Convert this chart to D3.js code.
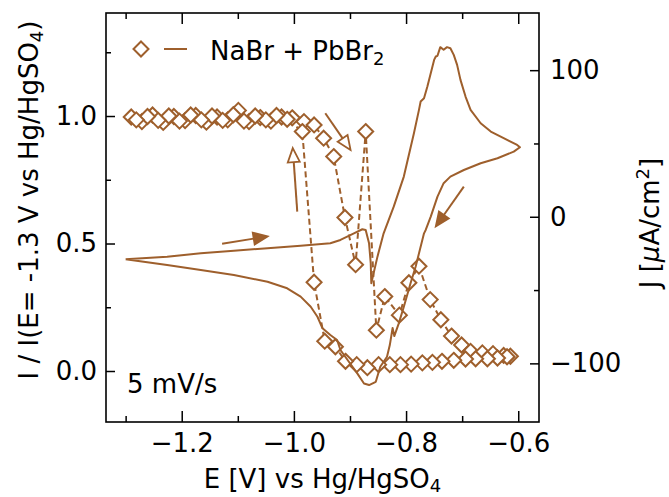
<!DOCTYPE html>
<html>
<head>
<meta charset="utf-8">
<script src="https://cdn.jsdelivr.net/npm/d3@7"></script>
<style>
body { margin: 0; background: white; }
svg { display: block; font-family: "DejaVu Sans", sans-serif; }
</style>
</head>
<body>
<svg id="chart"></svg>
<script>
//CV (right axis) + normalised I (left axis)

//Cyclic voltammogram, E [V] and J [uA/cm2]
var cvE = [-1.300, -1.226, -1.166, -1.107, -1.047, -0.988, -0.935, -0.917, -0.893, -0.878,
           -0.872, -0.866, -0.863, -0.862, -0.851, -0.840, -0.822, -0.804, -0.786, -0.777,
           -0.774, -0.768, -0.762, -0.750, -0.747, -0.744, -0.739, -0.733, -0.727, -0.721,
           -0.715, -0.709, -0.703, -0.694, -0.685, -0.667, -0.649, -0.626, -0.602, -0.597,
           -0.608, -0.637, -0.667, -0.697, -0.721, -0.733, -0.744, -0.756, -0.765, -0.768,
           -0.783, -0.792, -0.804, -0.813, -0.821, -0.824, -0.829, -0.834, -0.846, -0.854,
           -0.866, -0.875, -0.887, -0.902, -0.917, -0.923, -0.935, -0.949, -0.958, -0.970,
           -0.988, -1.012, -1.047, -1.107, -1.166, -1.226, -1.300];
var cvJ = [-29.0, -27.2, -24.9, -23.1, -21.5, -19.7, -18.1, -15.8, -11.3, -8.5,
           -9.0, -18.1, -31.7, -45.4, -27.2, -11.3, 6.9, 27.4, 57.0, 72.9,
           78.6, 80.9, 88.8, 107.0, 109.3, 109.8, 115.7, 113.9, 115.7, 115.0,
           110.4, 103.6, 93.4, 82.0, 72.9, 63.8, 58.1, 53.6, 49.0, 47.4,
           44.4, 39.9, 36.5, 31.9, 27.4, 22.9, 13.7, 0.1, -9.0, -11.3,
           -34.1, -45.4, -61.4, -72.7, -81.4, -75.9, -87.5, -95.5, -102.3, -112.6,
           -114.8, -113.7, -106.8, -98.9, -90.9, -84.1, -80.7, -76.1, -68.2, -61.4,
           -54.5, -48.8, -44.3, -39.7, -36.3, -32.9, -29.0];

//Diamonds, E [V] and I / I(E=-1.3 V)
var ratioE = [-1.290, -1.271, -1.252, -1.233, -1.214, -1.194, -1.175, -1.156, -1.137, -1.118,
              -1.099, -1.080, -1.060, -1.041, -1.022, -1.003, -0.982, -0.964, -0.947, -0.929,
              -0.909, -0.890, -0.872, -0.853, -0.838, -0.812, -0.795, -0.777, -0.757, -0.738,
              -0.719, -0.701, -0.685, -0.664, -0.645, -0.626, -0.614,
              -0.620, -0.637, -0.655, -0.676, -0.694, -0.715, -0.736, -0.753, -0.771, -0.791,
              -0.810, -0.829, -0.849, -0.869, -0.888, -0.908, -0.926, -0.945, -0.964, -0.985,
              -1.012, -1.031, -1.050, -1.069, -1.089, -1.108, -1.127, -1.146, -1.165, -1.184,
              -1.204, -1.223, -1.242, -1.261, -1.281];
var ratioI = [0.996, 0.978, 1.004, 0.975, 0.998, 0.982, 1.002, 0.976, 0.996, 0.985,
              1.022, 0.978, 0.994, 0.980, 0.996, 0.993, 0.978, 0.965, 0.913, 0.841,
              0.602, 0.417, 0.939, 0.160, 0.292, 0.219, 0.346, 0.411, 0.280, 0.201,
              0.137, 0.102, 0.077, 0.071, 0.068, 0.061, 0.058,
              0.056, 0.051, 0.048, 0.048, 0.047, 0.042, 0.038, 0.034, 0.032, 0.027,
              0.025, 0.025, 0.025, 0.013, 0.025, 0.038, 0.095, 0.117, 0.348, 0.939,
              0.987, 1.002, 0.985, 1.000, 0.980, 1.005, 0.983, 1.000, 0.985, 1.004,
              0.980, 1.000, 0.983, 0.998, 0.985];

//Ticks
var xTicks = [-1.2, -1.0, -0.8, -0.6];
var xMinorTicks = [-1.3, -1.1, -0.9, -0.7];
var leftTicks = [0, 0.5, 1.0];
var leftMinorTicks = [0.25, 0.75, 1.25];
var rightTicks = [-100, 0, 100];
var rightMinorTicks = [-50, 50];

//Scan direction arrows, in (E, I) units: start, tip, hollow head
var arrowFromE = [-1.128, -0.994, -0.944, -0.697];
var arrowFromI = [0.499, 0.625, 1.011, 0.723];
var arrowToE = [-1.047, -1.002, -0.899, -0.747];
var arrowToI = [0.528, 0.874, 0.867, 0.567];
var arrowHollow = [false, true, true, false];

var color = "#9e5f2c";

//Graph dimensions
var dimensions = {
    width: 669,
    height: 497,
    margin: {
        top: 13,
        right: 130,
        bottom: 75,
        left: 106
    }
};
var plotLeft = dimensions.margin.left;
var plotRight = dimensions.width - dimensions.margin.right;
var plotTop = dimensions.margin.top;
var plotBottom = dimensions.height - dimensions.margin.bottom;

//Scales
var xScale = d3.scaleLinear().domain([-1.335, -0.563]).range([plotLeft, plotRight]);
var yLeft = d3.scaleLinear().domain([-0.2, 1.404]).range([plotBottom, plotTop]);
var yRight = d3.scaleLinear().domain([-140, 139]).range([plotBottom, plotTop]);

var svg = d3.select("#chart")
            .attr("width", dimensions.width)
            .attr("height", dimensions.height);

//Axis helper: inward ticks, no domain path
function addAxis(gen, x, y, values, size, padding, fmt) {
    var g = svg.append("g")
               .attr("transform", "translate(" + x + "," + y + ")")
               .call(gen.tickValues(values).tickSize(size).tickPadding(padding).tickFormat(fmt));
    g.select(".domain").remove();
    g.attr("font-size", 26).attr("font-family", "DejaVu Sans, sans-serif");
    g.selectAll("line").attr("stroke-width", 1.5);
    return g;
}
var noLabel = function(){ return ""; };

//Bottom / top
addAxis(d3.axisBottom(xScale), 0, plotBottom, xTicks, -11, 12, d3.format(".1f"));
addAxis(d3.axisBottom(xScale), 0, plotBottom, xMinorTicks, -6, 12, noLabel);
addAxis(d3.axisTop(xScale), 0, plotTop, xTicks, -11, 5, noLabel);
addAxis(d3.axisTop(xScale), 0, plotTop, xMinorTicks, -6, 5, noLabel);

//Left
addAxis(d3.axisLeft(yLeft), plotLeft, 0, leftTicks, -9, 9, d3.format(".1f"));
addAxis(d3.axisLeft(yLeft), plotLeft, 0, leftMinorTicks, -5, 9, noLabel);

//Right
addAxis(d3.axisRight(yRight), plotRight, 0, rightTicks, -9, 11, d3.format("d"));
addAxis(d3.axisRight(yRight), plotRight, 0, rightMinorTicks, -5, 11, noLabel);

//Diamond series: dashed line then markers
var ratioData = ratioE.map(function(e, i){ return [e, ratioI[i]]; });
svg.append("path")
   .datum(ratioData)
   .attr("fill", "none")
   .attr("stroke", color)
   .attr("stroke-width", 2)
   .attr("stroke-dasharray", "6,3.5")
   .attr("d", d3.line()
       .x(function(d){ return xScale(d[0]); })
       .y(function(d){ return yLeft(d[1]); }));

var diamond = "M0,-7.5L7.5,0L0,7.5L-7.5,0Z";
svg.append("g")
   .selectAll("path")
   .data(ratioData)
   .join("path")
   .attr("d", diamond)
   .attr("transform", function(d){ return "translate(" + xScale(d[0]) + "," + yLeft(d[1]) + ")"; })
   .attr("fill", "white")
   .attr("stroke", color)
   .attr("stroke-width", 2);

//CV line on the twin axis
var cvData = cvE.map(function(e, i){ return [e, cvJ[i]]; });
svg.append("path")
   .datum(cvData)
   .attr("fill", "none")
   .attr("stroke", color)
   .attr("stroke-width", 2)
   .attr("stroke-linejoin", "round")
   .attr("d", d3.line()
       .x(function(d){ return xScale(d[0]); })
       .y(function(d){ return yRight(d[1]); }));

//Arrows
arrowFromE.forEach(function(e, i){
    var x0 = xScale(e), y0 = yLeft(arrowFromI[i]);
    var x1 = xScale(arrowToE[i]), y1 = yLeft(arrowToI[i]);
    var ang = Math.atan2(y1 - y0, x1 - x0);
    var len = 14, half = 6;
    var bx = x1 - len * Math.cos(ang), by = y1 - len * Math.sin(ang);
    var px = -Math.sin(ang) * half, py = Math.cos(ang) * half;
    svg.append("line")
       .attr("x1", x0).attr("y1", y0)
       .attr("x2", bx).attr("y2", by)
       .attr("stroke", color)
       .attr("stroke-width", 2);
    svg.append("path")
       .attr("d", "M" + x1 + "," + y1 + "L" + (bx + px) + "," + (by + py) + "L" + (bx - px) + "," + (by - py) + "Z")
       .attr("fill", arrowHollow[i] ? "white" : color)
       .attr("stroke", color)
       .attr("stroke-width", 1.8)
       .attr("stroke-linejoin", "miter");
});

//Frame
svg.append("rect")
   .attr("x", plotLeft).attr("y", plotTop)
   .attr("width", plotRight - plotLeft).attr("height", plotBottom - plotTop)
   .attr("fill", "none")
   .attr("stroke", "black")
   .attr("stroke-width", 1.6);

//Legend
svg.append("path")
   .attr("d", diamond)
   .attr("transform", "translate(141,49)")
   .attr("fill", "white")
   .attr("stroke", color)
   .attr("stroke-width", 2);
svg.append("line")
   .attr("x1", 164).attr("x2", 187)
   .attr("y1", 49).attr("y2", 49)
   .attr("stroke", color)
   .attr("stroke-width", 2);
var legendText = svg.append("text")
   .attr("x", 210).attr("y", 60)
   .style("font-size", "26px");
legendText.append("tspan").text("NaBr + PbBr");
legendText.append("tspan").attr("dy", 5).style("font-size", "18px").text("2");

//Scan rate
svg.append("text")
   .attr("x", 127).attr("y", 393)
   .style("font-size", "26px")
   .text("5 mV/s");

//X-axis title
var xTitle = svg.append("text")
   .attr("x", (plotLeft + plotRight) / 2)
   .attr("y", 488)
   .attr("text-anchor", "middle")
   .style("font-size", "26px");
xTitle.append("tspan").text("E [V] vs Hg/HgSO");
xTitle.append("tspan").attr("dy", 4).style("font-size", "18px").text("4");

//Left y-axis title
var yTitle = svg.append("text")
   .attr("transform", "rotate(-90)")
   .attr("x", -200)
   .attr("y", 38)
   .attr("text-anchor", "middle")
   .style("font-size", "26px");
yTitle.append("tspan").text("I / I(E= -1.3 V vs Hg/HgSO");
yTitle.append("tspan").attr("dy", 5).style("font-size", "18px").text("4");
yTitle.append("tspan").attr("dy", -5).text(")");

//Right y-axis title
var rTitle = svg.append("text")
   .attr("transform", "rotate(-90)")
   .attr("x", -223)
   .attr("y", 659)
   .attr("text-anchor", "middle")
   .style("font-size", "26px");
rTitle.append("tspan").text("J [");
rTitle.append("tspan").style("font-style", "italic").text("\u03bc");
rTitle.append("tspan").text("A/cm");
rTitle.append("tspan").attr("dy", -10).style("font-size", "18px").text("2");
rTitle.append("tspan").attr("dy", 10).text("]");
</script>
</body>
</html>
